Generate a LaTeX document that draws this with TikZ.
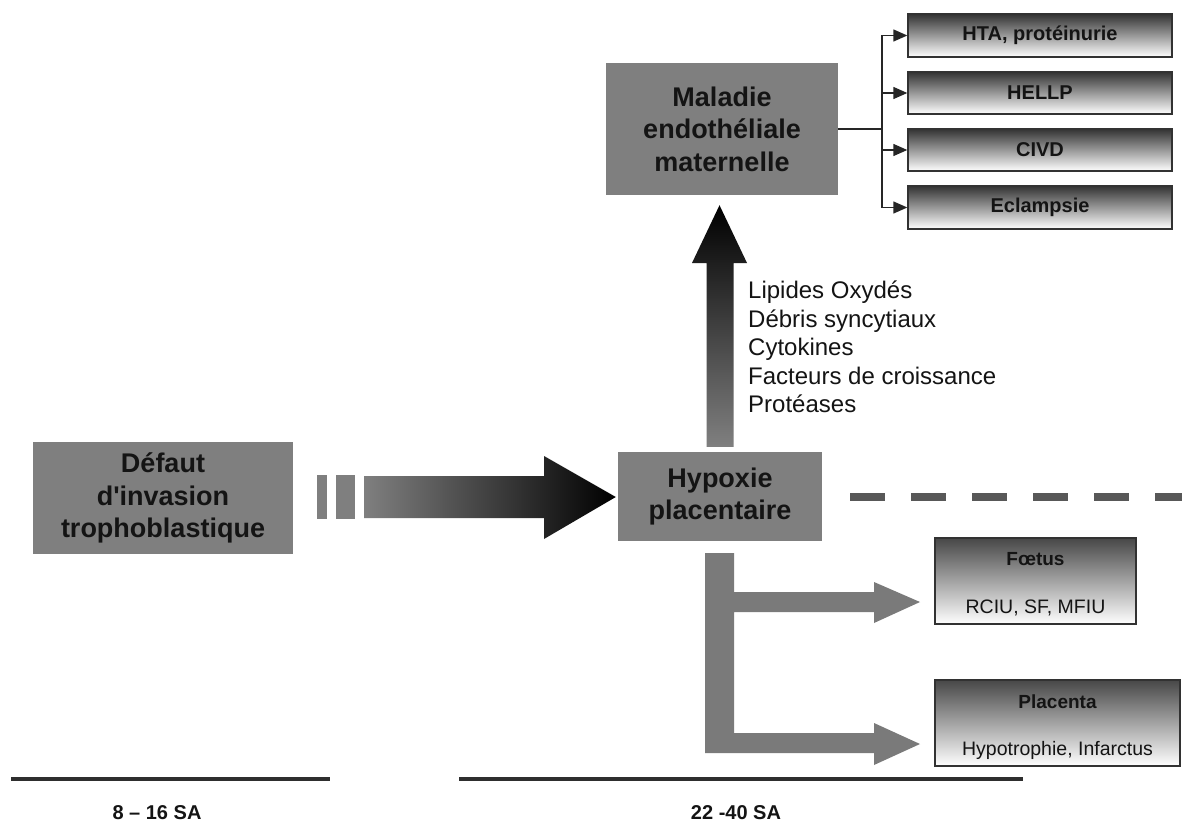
\documentclass[tikz,border=0pt]{standalone}
\usepackage{fontspec}
\setmainfont{Liberation Sans}
\usetikzlibrary{arrows.meta,calc}
\definecolor{gbox}{RGB}{127,127,127}
\definecolor{garrow}{RGB}{122,122,122}
\definecolor{gdash}{RGB}{88,88,88}
\definecolor{txt}{RGB}{20,20,20}
\definecolor{bord}{RGB}{50,50,50}
\tikzset{
  graybox/.style={fill=gbox, draw=none, inner sep=0pt, align=center, text=txt,
    font=\fontsize{27}{32.5}\selectfont\bfseries},
  gradbox/.style={draw=bord, line width=1.4pt, top color=black!80, bottom color=white,
    minimum width=264, inner sep=0pt, text=txt, font=\fontsize{20}{22}\selectfont\bfseries},
  outbox/.style={draw=bord, line width=1.2pt, top color=black!72, middle color=white,
    bottom color=white, minimum height=86, inner sep=0pt},
  link/.style={line width=1.4pt, draw=black!85, -{Triangle[length=14pt,width=12pt]}},
  listtext/.style={anchor=base west, inner sep=0pt, text=txt, font=\fontsize{24}{28}\selectfont},
  smalltitle/.style={anchor=base, inner sep=0pt, text=txt, font=\fontsize{19}{22}\selectfont\bfseries},
  smalltext/.style={anchor=base, inner sep=0pt, text=txt, font=\fontsize{19.5}{22}\selectfont},
  timetext/.style={anchor=base, inner sep=0pt, text=txt, font=\fontsize{20}{22}\selectfont\bfseries},
  timeline/.style={line width=4pt, draw=black!82},
}
\begin{document}
\begin{tikzpicture}[x=1pt,y=-1pt]
\useasboundingbox[fill=white] (0,0) rectangle (1182,821);

% main gray boxes
\node[graybox, minimum width=232, minimum height=132] (mal) at (722,129) {Maladie\\endothéliale\\maternelle};
\node[graybox, minimum width=260, minimum height=112] (def) at (163,498) {Défaut\\d\textquotesingle invasion\\trophoblastique};
\node[graybox, minimum width=204, minimum height=89] (hyp) at (720,496.5) {Hypoxie\\placentaire};

% right gradient boxes
\node[gradbox, minimum height=43] (hta) at (1040,35.5) {HTA, protéinurie};
\node[gradbox, minimum height=42] (hellp) at (1040,93) {HELLP};
\node[gradbox, minimum height=42] (civd) at (1040,150) {CIVD};
\node[gradbox, minimum height=43] (ecl) at (1040,207.5) {Eclampsie};

% connectors from Maladie
\coordinate (split) at (882,129);
\draw[line width=1.4pt, draw=black!85] (mal.east) -- (split);
\foreach \t in {hta,hellp,civd,ecl}{
  \draw[link] (split) |- (\t.west);
}

% upward shaded arrow
\coordinate (ub) at ($(hyp.north)+(0,-5)$);
\coordinate (ut) at ($(mal.south)+(-2.5,10)$);
\shade[bottom color=black!50, top color=black]
  ($(ub)+(-13.5,0)$) -- ($(ub)+(13.5,0)$) -- (733.5,263) -- (747,263) -- (ut)
  -- (692,263) -- (706.5,263) -- cycle;

% list of factors
\node[listtext] (l1) at (748,298) {Lipides Oxydés};
\node[listtext] (l2) at (748,327) {Débris syncytiaux};
\node[listtext] (l3) at (748,355) {Cytokines};
\node[listtext] (l4) at (748,384) {Facteurs de croissance};
\node[listtext] (l5) at (748,412) {Protéases};

% horizontal shaded arrow
\fill[gbox] (317,475) rectangle (327,519);
\fill[gbox] (336,475) rectangle (355,519);
\coordinate (ht) at ($(hyp.west)+(-2,0.5)$);
\shade[left color=black!50, right color=black]
  (364,476) -- (544,476) -- (544,456) -- (ht) -- (544,539) -- (544,518) -- (364,518) -- cycle;

% dashed line
\draw[line width=8pt, draw=gdash, dash pattern=on 35pt off 26pt] (850,497) -- (1182,497);

% outcome boxes
\node[outbox, minimum width=201] (foe) at (1035.5,581) {};
\node[outbox, minimum width=245] (pla) at (1057.5,723) {};
\node[smalltitle] (foet) at (foe.center |- 0,565) {Fœtus};
\node[smalltext] (foes) at (foe.center |- 0,613) {RCIU, SF, MFIU};
\node[smalltitle] (plat) at (pla.center |- 0,708) {Placenta};
\node[smalltext] (plas) at (pla.center |- 0,755) {Hypotrophie, Infarctus};

% gray branch arrows
\fill[garrow] (705,553) -- (734,553) -- (734,592) -- (874,592) -- (874,582) -- (920,602)
  -- (874,623) -- (874,612) -- (734,612) -- (734,733) -- (874,733) -- (874,723)
  -- (920,744) -- (874,765) -- (874,753) -- (705,753) -- cycle;

% timeline
\draw[timeline] (11,779) -- (330,779);
\draw[timeline] (459,779) -- (1023,779);
\node[timetext] (t1) at (157,819) {8 – 16 SA};
\node[timetext] (t2) at (736,819) {22 -40 SA};
\end{tikzpicture}
\end{document}
